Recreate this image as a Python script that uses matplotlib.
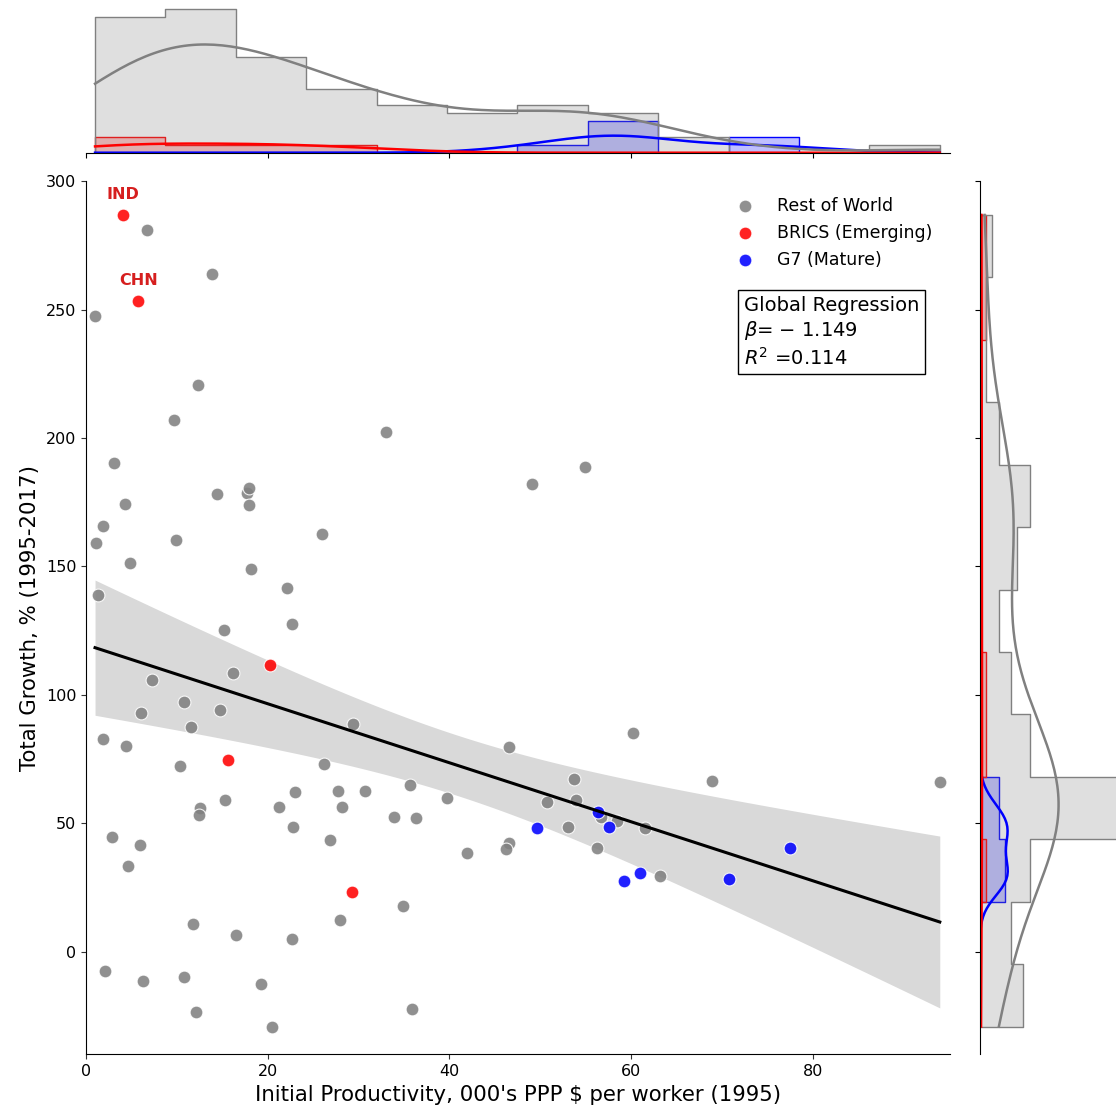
"""Productivity convergence: joint scatter with marginal histograms."""

import matplotlib

matplotlib.use("Agg")
import matplotlib.pyplot as plt
import numpy as np
import pandas as pd
import seaborn as sns

GROUPS = ["Rest of World", "BRICS (Emerging)", "G7 (Mature)"]
PALETTE = {"Rest of World": "grey", "BRICS (Emerging)": "red", "G7 (Mature)": "blue"}

# Initial productivity (000's PPP $ per worker, 1995) and total growth (%, 1995-2017)
row_productivity = [
    6.71, 13.87, 0.99, 12.29, 9.65, 33.06, 3.12, 14.42, 17.70, 17.98,
    17.98, 4.29, 1.87, 1.14, 9.87, 25.98, 4.84, 18.16, 22.16, 1.29,
    22.71, 15.16, 16.18, 7.23, 10.79, 6.02, 14.72, 11.52, 29.35, 1.87,
    4.37, 10.35, 26.16, 15.27, 12.55, 12.47, 21.28, 23.04, 27.74, 28.21,
    30.67, 35.66, 39.74, 33.87, 36.29, 22.79, 26.89, 41.94, 2.83, 5.98,
    4.66, 34.86, 27.99, 11.81, 16.48, 22.64, 2.13, 6.31, 10.82, 19.30,
    12.10, 35.92, 20.51, 46.60, 53.68, 50.78, 53.97, 56.65, 58.40, 61.53,
    53.05, 46.60, 46.23, 56.28, 68.87, 93.97, 63.15, 49.10, 54.90, 60.20,
]
row_growth = [
    281.2, 263.8, 247.6, 220.7, 206.9, 202.3, 190.4, 178.3, 178.6, 180.7,
    173.9, 174.4, 165.6, 159.1, 160.5, 162.8, 151.5, 149.1, 141.7, 138.9,
    127.6, 125.3, 108.5, 105.7, 97.2, 92.9, 94.1, 87.5, 88.8, 82.8,
    79.9, 72.1, 73.2, 58.9, 55.9, 53.3, 56.3, 62.0, 62.4, 56.3,
    62.7, 65.0, 59.9, 52.4, 52.0, 48.5, 43.5, 38.4, 44.8, 41.7,
    33.5, 17.8, 12.2, 10.9, 6.5, 5.1, -7.4, -11.3, -10.0, -12.7,
    -23.5, -22.2, -29.2, 79.7, 67.3, 58.1, 58.9, 52.6, 50.7, 48.1,
    48.5, 42.3, 39.9, 40.2, 66.5, 66.0, 29.6, 182.2, 188.9, 85.3,
]
brics_productivity = [4.04, 5.76, 20.22, 15.60, 29.25]
brics_growth = [286.9, 253.4, 111.5, 74.5, 23.4]
brics_labels = ["IND", "CHN"]  # only the first two points are annotated
g7_productivity = [56.36, 57.60, 49.60, 77.53, 60.94, 59.25, 70.74]
g7_growth = [54.3, 48.5, 48.3, 40.3, 30.6, 27.6, 28.3]

BETA_TEXT = "Global Regression\n$\\beta$= $-$ 1.149\n$R^2$ =0.114"


def build_frame() -> pd.DataFrame:
    parts = [
        (GROUPS[0], row_productivity, row_growth),
        (GROUPS[1], brics_productivity, brics_growth),
        (GROUPS[2], g7_productivity, g7_growth),
    ]
    frames = [
        pd.DataFrame({"productivity": xs, "growth": ys, "group": name})
        for name, xs, ys in parts
    ]
    return pd.concat(frames, ignore_index=True)


df = build_frame()

fig = plt.figure(figsize=(11.16, 11.13), dpi=100)
ax = fig.add_axes([0.0771, 0.0527, 0.7742, 0.7844])
ax_top = fig.add_axes([0.0771, 0.8628, 0.7742, 0.1353], sharex=ax)
ax_right = fig.add_axes([0.8781, 0.0527, 0.1344, 0.7844], sharey=ax)

# marginal histograms with kde
hist_kws = dict(
    data=df, hue="group", hue_order=GROUPS, palette=PALETTE,
    element="step", kde=True, legend=False, line_kws={"linewidth": 1.8},
)
sns.histplot(x="productivity", bins=12, ax=ax_top, **hist_kws)
sns.histplot(y="growth", bins=13, ax=ax_right, **hist_kws)

# OLS line with a 95% band from heteroscedasticity-robust (HC1) errors
x_all = df["productivity"].to_numpy()
y_all = df["growth"].to_numpy()
n = len(x_all)
design = np.column_stack([np.ones(n), x_all])
bread = np.linalg.inv(design.T @ design)
coef = bread @ design.T @ y_all
resid = y_all - design @ coef
meat = design.T @ (design * resid[:, None] ** 2)
cov = bread @ meat @ bread * n / (n - 2)

grid = np.linspace(x_all.min(), x_all.max(), 200)
grid_design = np.column_stack([np.ones_like(grid), grid])
fit = grid_design @ coef
half = 1.96 * np.sqrt(np.einsum("ij,jk,ik->i", grid_design, cov, grid_design))
ax.fill_between(grid, fit - half, fit + half, color="#d9d9d9", linewidth=0, zorder=1)
ax.plot(grid, fit, color="black", linewidth=2.2, zorder=4)

for name in GROUPS:
    sub = df[df["group"] == name]
    ax.scatter(
        sub["productivity"], sub["growth"], s=85, color=PALETTE[name],
        alpha=0.87, edgecolor="white", linewidth=0.8, label=name, zorder=3,
    )

for code, px, py in zip(brics_labels, brics_productivity, brics_growth):
    ax.annotate(
        code, (px, py), xytext=(0, 15), textcoords="offset points",
        ha="center", va="center", color="#d61f1f", fontsize=11.5, fontweight="bold",
    )

ax.legend(
    frameon=False, loc="upper left", bbox_to_anchor=(0.725, 1.0),
    fontsize=12.5, handletextpad=0.8, labelspacing=0.52,
)
ax.text(
    0.7613, 0.8689, BETA_TEXT, transform=ax.transAxes, ha="left", va="top",
    fontsize=14, linespacing=1.25,
    bbox=dict(boxstyle="square,pad=0.3", facecolor="white", edgecolor="black"),
)

ax.set_xlim(0, 95.1)
ax.set_ylim(-40, 300)
ax.set_xlabel("Initial Productivity, 000's PPP $ per worker (1995)", fontsize=15.3)
ax.set_ylabel("Total Growth, % (1995-2017)", fontsize=15.3)
ax.tick_params(labelsize=11.5, color="#333333")
for side in ["top", "right"]:
    ax.spines[side].set_visible(False)

ax_top.set_xlabel("")
ax_top.set_ylabel("")
ax_top.tick_params(labelbottom=False, left=False, labelleft=False)
for side in ["top", "right", "left"]:
    ax_top.spines[side].set_visible(False)

ax_right.set_xlabel("")
ax_right.set_ylabel("")
ax_right.tick_params(labelleft=False, bottom=False, labelbottom=False)
for side in ["top", "right", "bottom"]:
    ax_right.spines[side].set_visible(False)

fig.savefig("out.png", dpi=100)
plt.close(fig)
